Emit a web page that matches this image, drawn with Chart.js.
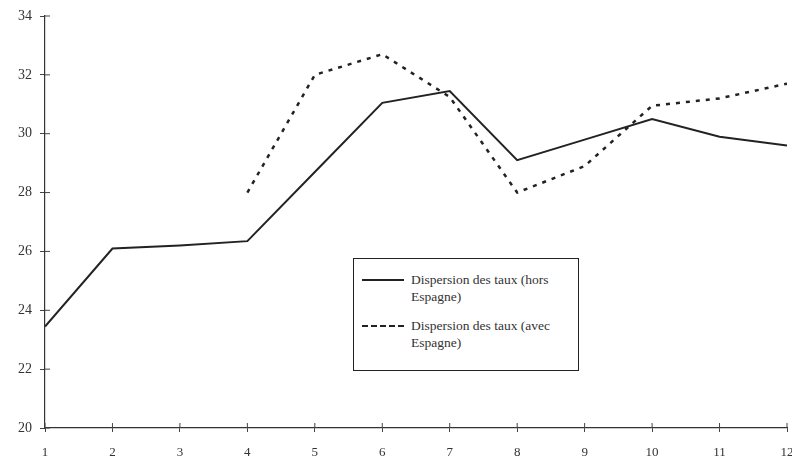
<!DOCTYPE html>
<html>
<head>
<meta charset="utf-8">
<script src="https://cdn.jsdelivr.net/npm/chart.js@4/dist/chart.umd.min.js"></script>
<style>
  html, body { margin: 0; padding: 0; background: #fff; }
  #wrap { position: relative; width: 792px; height: 458px; }
  #legendBox {
    position: absolute; left: 353px; top: 258px; width: 226px; height: 113px;
    border: 1.5px solid #222; box-sizing: border-box; background: #fff;
    font-family: "Liberation Serif", "DejaVu Serif", serif; font-size: 13.5px; color: #333;
  }
  .item { position: absolute; left: 8px; display: flex; align-items: flex-start; }
  .sample { width: 42px; height: 0; margin-top: 8px; margin-right: 7px; }
  .txt { width: 165px; line-height: 17px; }
</style>
</head>
<body>
<div id="wrap">
  <canvas id="lineChart" width="792" height="458"></canvas>
  <div id="legendBox">
    <div class="item" style="top:12px"><div class="sample" style="border-top:2px solid #222"></div><div class="txt" id="lab0"></div></div>
    <div class="item" style="top:58px"><div class="sample" style="border-top:2.5px dashed #222"></div><div class="txt" id="lab1"></div></div>
  </div>
</div>
<script>
const periods = [1, 2, 3, 4, 5, 6, 7, 8, 9, 10, 11, 12];
const seriesNames = ["Dispersion des taux (hors Espagne)", "Dispersion des taux (avec Espagne)"];
const horsEspagne = [23.45, 26.1, 26.2, 26.35, 28.7, 31.05, 31.45, 29.1, 29.8, 30.5, 29.9, 29.6];
const avecEspagne = [null, null, null, 28.0, 32.0, 32.7, 31.25, 28.0, 28.9, 30.95, 31.2, 31.7];
const yTicks = [20, 22, 24, 26, 28, 30, 32, 34];

document.getElementById("lab0").textContent = seriesNames[0];
document.getElementById("lab1").textContent = seriesNames[1];

// petites graduations qui traversent les axes
const innerTicks = {
    id: "innerTicks",
    afterDraw(chart) {
        const c = chart.ctx, x = chart.scales.x, y = chart.scales.y;
        c.save();
        c.strokeStyle = "#444";
        c.lineWidth = 1;
        periods.forEach((p) => {
            const px = x.getPixelForValue(p);
            c.beginPath(); c.moveTo(px, y.bottom); c.lineTo(px, y.bottom - 5); c.stroke();
        });
        yTicks.forEach((v) => {
            const py = y.getPixelForValue(v);
            c.beginPath(); c.moveTo(x.left, py); c.lineTo(x.left + 5, py); c.stroke();
        });
        c.restore();
    },
};

const ctx = document.getElementById("lineChart").getContext("2d");
new Chart(ctx, {
    type: "line",
    data: {
        labels: periods,
        datasets: [
            {
                label: seriesNames[0],
                data: horsEspagne,
                borderColor: "#222",
                borderWidth: 2,
                pointRadius: 0,
                tension: 0,
            },
            {
                label: seriesNames[1],
                data: avecEspagne,
                borderColor: "#222",
                borderWidth: 2.5,
                borderDash: [4, 6],
                pointRadius: 0,
                tension: 0,
                spanGaps: false,
            },
        ],
    },
    options: {
        responsive: false,
        animation: false,
        layout: { padding: { top: 16, right: 5, left: 0, bottom: 0 } },
        plugins: { legend: { display: false }, tooltip: { enabled: false } },
        scales: {
            x: {
                type: "linear",
                min: 1,
                max: 12,
                afterFit: (s) => { s.height = 30; s.paddingRight = 0; s.paddingLeft = 0; },
                afterBuildTicks: (s) => { s.ticks = periods.map((v) => ({ value: v })); },
                grid: { drawOnChartArea: false, tickLength: 4, color: "#444" },
                border: { color: "#333", width: 1.2 },
                ticks: {
                    padding: 13,
                    color: "#333",
                    font: { family: "Liberation Serif", size: 13 },
                    maxRotation: 0,
                },
            },
            y: {
                min: 20,
                max: 34,
                afterFit: (s) => { s.width = 45; s.paddingTop = 0; s.paddingBottom = 0; },
                afterBuildTicks: (s) => { s.ticks = yTicks.map((v) => ({ value: v })); },
                grid: { drawOnChartArea: false, tickLength: 5, color: "#444" },
                border: { color: "#333", width: 1.2 },
                ticks: {
                    padding: 8,
                    color: "#333",
                    font: { family: "Liberation Serif", size: 14 },
                },
            },
        },
    },
    plugins: [innerTicks],
});
</script>
</body>
</html>
